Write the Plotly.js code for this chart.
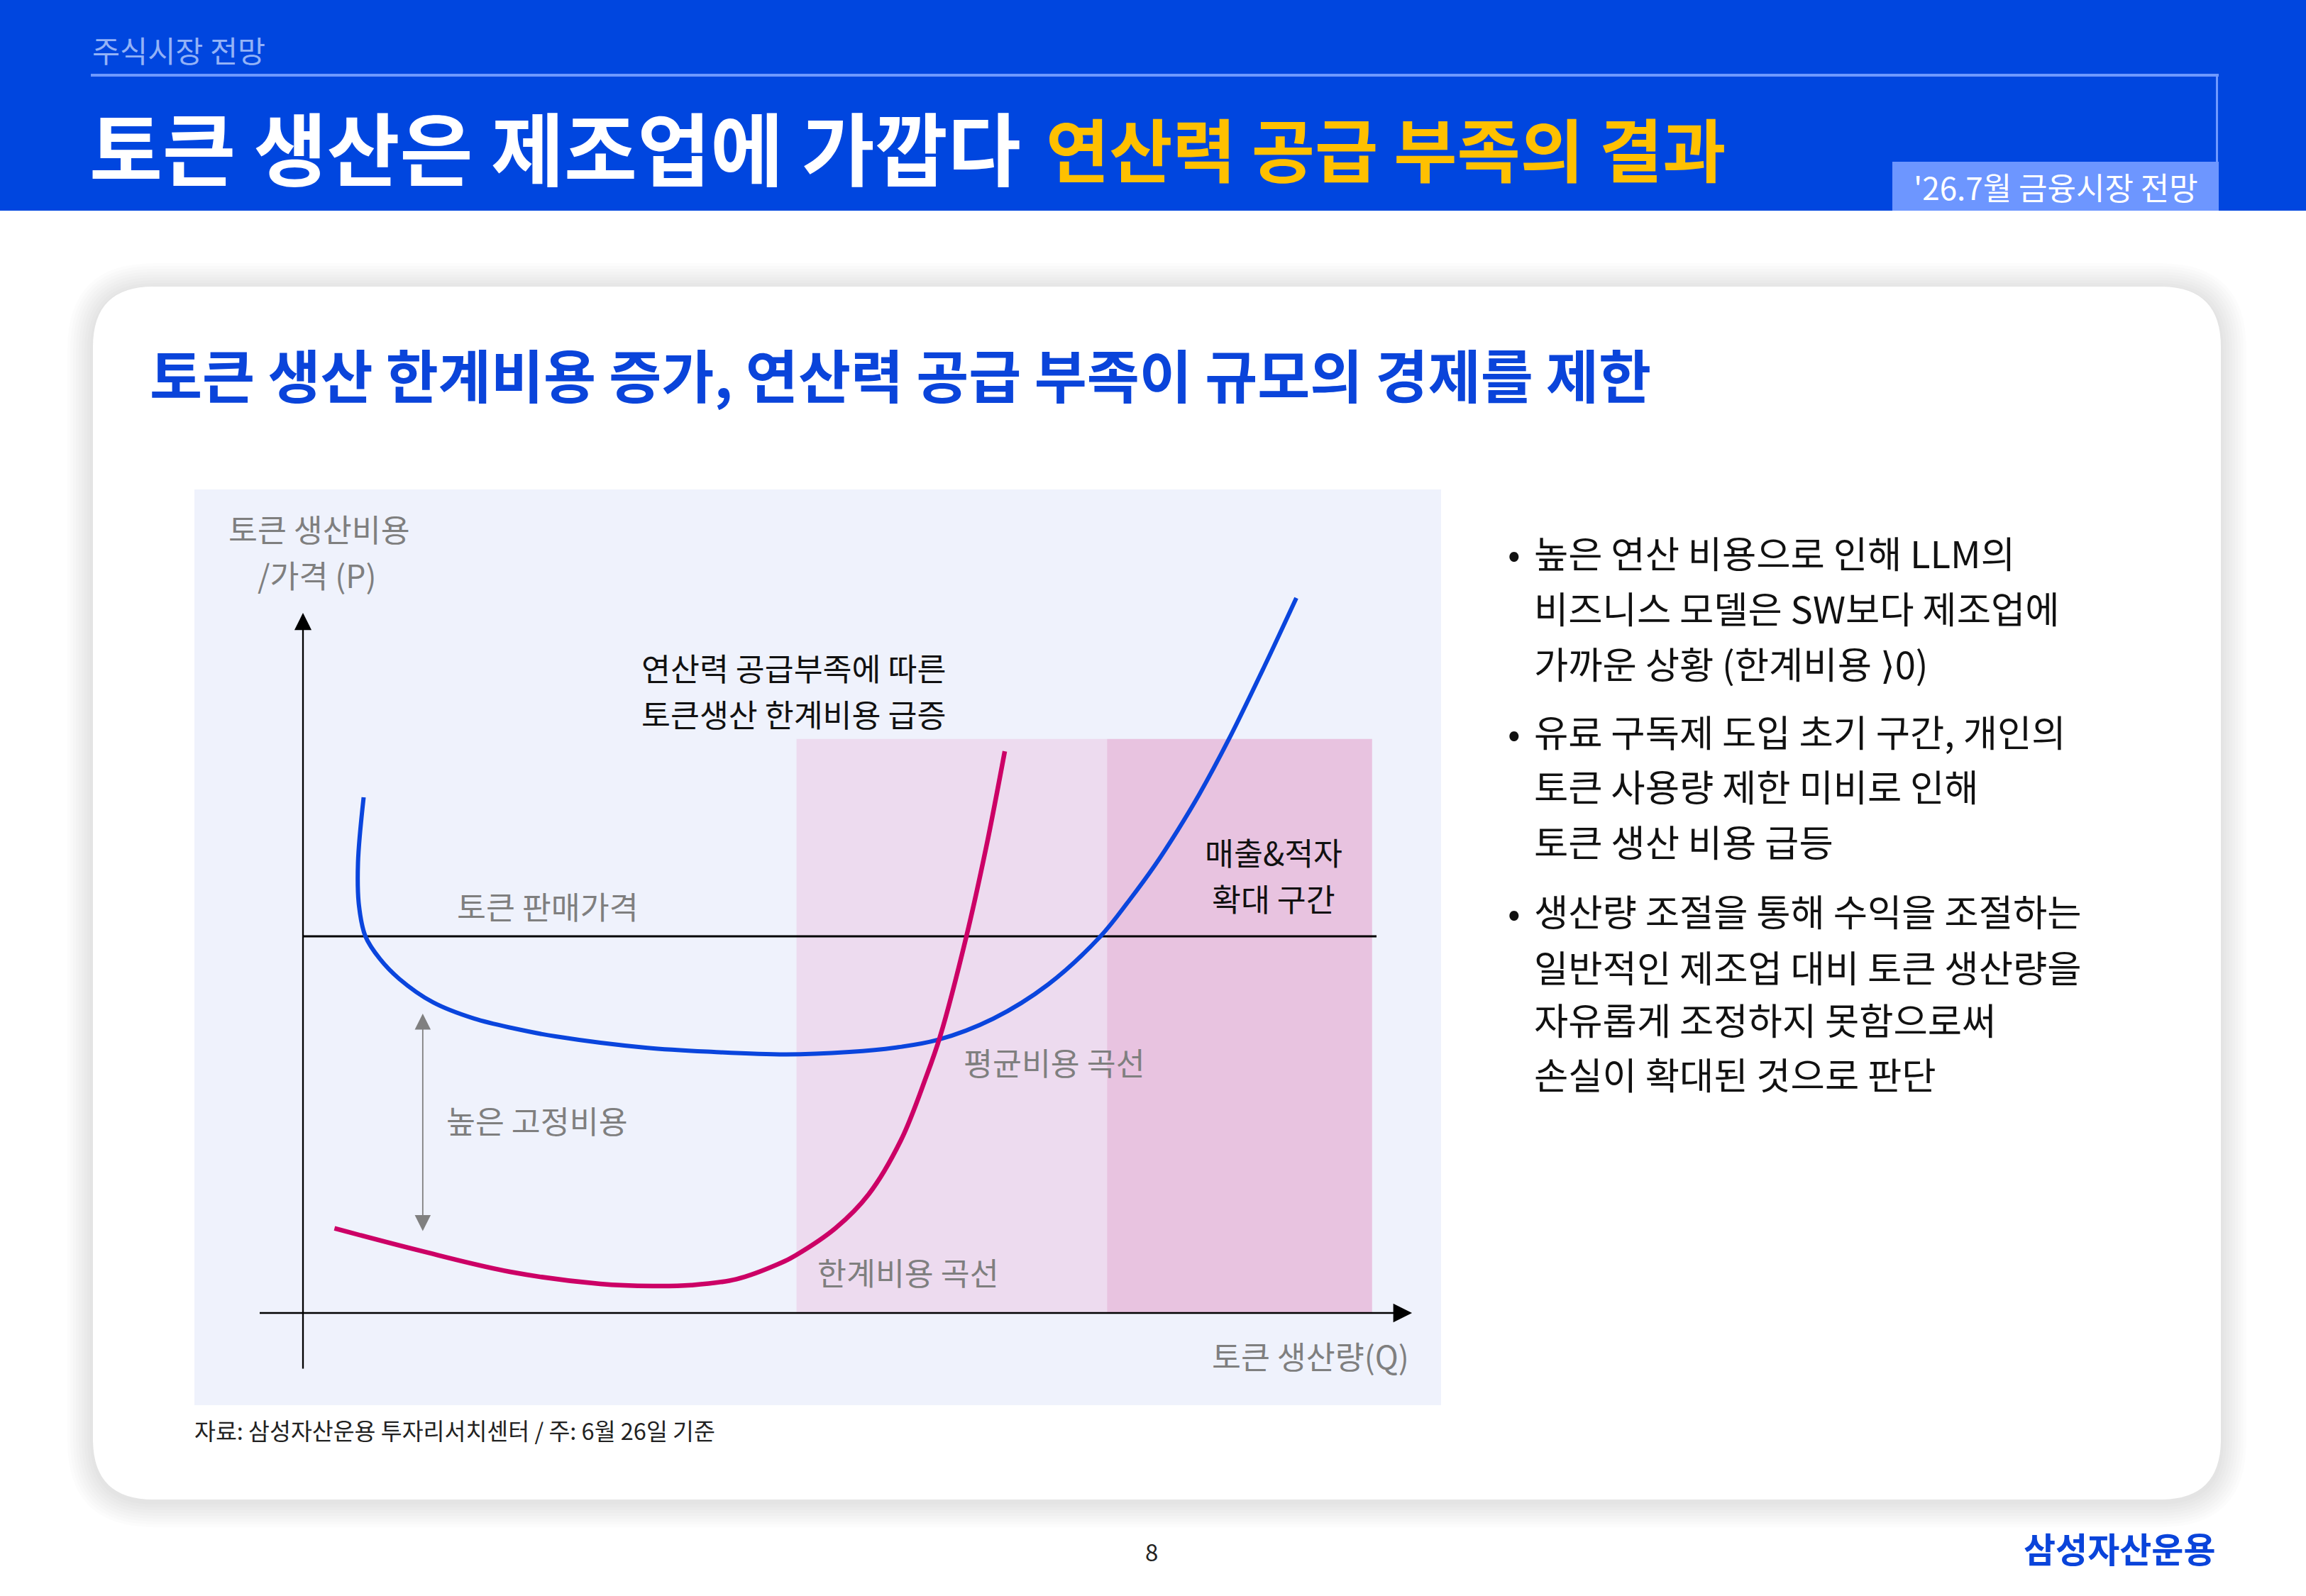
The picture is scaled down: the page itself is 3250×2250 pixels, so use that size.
<!DOCTYPE html>
<html>
<head>
<meta charset="utf-8">
<script src="https://cdn.plot.ly/plotly-3.0.1.min.js"></script>
<style>
  html, body { margin: 0; padding: 0; background: #ffffff; }
  #slide { width: 3250px; height: 2250px; }
</style>
</head>
<body>
<div id="slide"></div>
<script>
// ---- Cost curves (Q = token output, P = cost / price) ----
const avgCostQ = [5.47, 4.96, 5.05, 5.63, 6.94, 8.68, 11.71, 15.42, 19.08, 22.76, 30.90, 37.04, 43.57,
                  49.26, 53.36, 57.24, 62.25, 67.18, 71.91, 74.47, 76.81, 78.89, 80.81, 83.49, 86.67, 89.57];
const avgCostP = [73.66, 64.34, 58.16, 53.80, 50.56, 47.72, 44.38, 42.05, 40.63, 39.51, 37.89, 37.28, 36.93,
                  37.28, 37.89, 39.01, 42.05, 46.91, 53.80, 58.87, 63.93, 68.99, 74.06, 81.97, 92.30, 102.13];

const marginalCostQ = [2.84, 10.49, 18.68, 26.81, 31.54, 35.00, 39.08, 43.15, 44.40, 48.05,
                       50.99, 53.93, 56.17, 57.45, 59.82, 61.61, 63.28];
const marginalCostP = [12.09, 8.92, 5.88, 4.15, 3.85, 3.98, 4.83, 7.19, 8.21, 12.16,
                       16.92, 24.72, 33.64, 39.51, 53.80, 66.57, 80.24];

// selling price of a token and the output span it is drawn over
const salePrice = 53.8;
const salePriceQ = [0, 96.8];

// output zones: compute shortage zone and revenue & loss expansion zone
const shortageZoneQ = [44.5, 72.5];
const lossZoneQ = [72.5, 96.4];
const zoneTopP = 82;

// high fixed cost span
const fixedCostQ = 10.8;
const fixedCostP = [42.9, 11.7];

// axis extents
const qAxisFrom = -4, qAxisTo = 100;
const pAxisFrom = -8.1, pAxisTo = 100;

// ---- Text ----
const sectionLabel = '주식시장 전망';
const headline = '토큰 생산은 제조업에 가깝다';
const headlineAccent = '연산력 공급 부족의 결과';
const issueLabel = "'26.7월 금융시장 전망";
const cardTitle = '토큰 생산 한계비용 증가, 연산력 공급 부족이 규모의 경제를 제한';
const sourceNote = '자료: 삼성자산운용 투자리서치센터 / 주: 6월 26일 기준';
const pageNumber = '8';
const brand = '삼성자산운용';
const yAxisLabel = ['토큰 생산비용', '/가격 (P)'];
const xAxisLabel = '토큰 생산량(Q)';
const shortageNote = ['연산력 공급부족에 따른', '토큰생산 한계비용 급증'];
const lossZoneLabel = ['매출&amp;적자', '확대 구간'];
const priceLabel = '토큰 판매가격';
const avgCostLabel = '평균비용 곡선';
const marginalCostLabel = '한계비용 곡선';
const fixedCostLabel = '높은 고정비용';
const bulletLines = [
  ['높은 연산 비용으로 인해 LLM의', '비즈니스 모델은 SW보다 제조업에', '가까운 상황 (한계비용 ⟩0)'],
  ['유료 구독제 도입 초기 구간, 개인의', '토큰 사용량 제한 미비로 인해', '토큰 생산 비용 급등'],
  ['생산량 조절을 통해 수익을 조절하는', '일반적인 제조업 대비 토큰 생산량을', '자유롭게 조정하지 못함으로써', '손실이 확대된 것으로 판단']
];

// ---- Page geometry helpers (pixels -> paper fractions) ----
const W = 3250, H = 2250;
const PX = x => x / W;
const PY = y => 1 - y / H;
const FONT = '"Noto Sans CJK KR", "Noto Sans", sans-serif';

function roundRectPath(x0, y0, x1, y1, r) {
  const p = (x, y) => PX(x).toFixed(6) + ',' + PY(y).toFixed(6);
  return 'M' + p(x0 + r, y0) + ' L' + p(x1 - r, y0) + ' Q' + p(x1, y0) + ' ' + p(x1, y0 + r) +
         ' L' + p(x1, y1 - r) + ' Q' + p(x1, y1) + ' ' + p(x1 - r, y1) +
         ' L' + p(x0 + r, y1) + ' Q' + p(x0, y1) + ' ' + p(x0, y1 - r) +
         ' L' + p(x0, y0 + r) + ' Q' + p(x0, y0) + ' ' + p(x0 + r, y0) + ' Z';
}
function paperRect(x0, y0, x1, y1, fill) {
  return { type: 'rect', xref: 'paper', yref: 'paper', layer: 'below',
           x0: PX(x0), x1: PX(x1), y0: PY(y1), y1: PY(y0),
           fillcolor: fill, line: { width: 0 } };
}
function pageText(text, x, y, size, color, opts, weight) {
  return Object.assign({
    xref: 'paper', yref: 'paper', x: PX(x), y: PY(y), text: text, showarrow: false,
    xanchor: 'left', yanchor: 'middle',
    font: { family: FONT, size: size, color: color, weight: weight || 400 }
  }, opts || {});
}
function chartText(text, q, p, color, opts) {
  return Object.assign({
    xref: 'x', yref: 'y', x: q, y: p, text: text, showarrow: false,
    xanchor: 'center', yanchor: 'middle', align: 'center',
    font: { family: FONT, size: 44.5, color: color }
  }, opts || {});
}

// ---- Shapes: header band, card with soft shadow, chart panel, zones ----
const shapes = [];
shapes.push(paperRect(0, 0, W, 297, '#0046DF'));
shapes.push(paperRect(128, 104, 3127, 108, '#6F99FF'));
shapes.push(paperRect(3123, 106, 3126, 228, '#6F99FF'));
shapes.push(paperRect(2667, 228, 3127, 297, '#6D96FF'));

const card = { x0: 131, y0: 404, x1: 3130, y1: 2114, r: 85 };
for (let i = 9; i >= 1; i--) {
  const g = i * 4;
  shapes.push({ type: 'path', xref: 'paper', yref: 'paper', layer: 'below',
    path: roundRectPath(card.x0 - g, card.y0 - g + 3, card.x1 + g, card.y1 + g + 3, card.r + g),
    fillcolor: 'rgba(0,0,0,0.011)', line: { width: 0 } });
}
shapes.push({ type: 'path', xref: 'paper', yref: 'paper', layer: 'below',
  path: roundRectPath(card.x0, card.y0, card.x1, card.y1, card.r),
  fillcolor: '#FFFFFF', line: { width: 0 } });
shapes.push(paperRect(274, 690, 2031, 1981, '#EFF2FC'));

shapes.push({ type: 'rect', xref: 'x', yref: 'y', layer: 'below',
  x0: shortageZoneQ[0], x1: shortageZoneQ[1], y0: 0, y1: zoneTopP,
  fillcolor: '#EDDBEF', line: { width: 0 } });
shapes.push({ type: 'rect', xref: 'x', yref: 'y', layer: 'below',
  x0: lossZoneQ[0], x1: lossZoneQ[1], y0: 0, y1: zoneTopP,
  fillcolor: '#E8C3E0', line: { width: 0 } });

// ---- Traces ----
const traces = [
  { type: 'scatter', mode: 'lines', x: salePriceQ, y: [salePrice, salePrice],
    line: { color: '#000000', width: 3 }, hoverinfo: 'skip' },
  { type: 'scatter', mode: 'lines', x: avgCostQ, y: avgCostP, name: avgCostLabel,
    line: { color: '#0A45DD', width: 6, shape: 'spline', smoothing: 1 }, hoverinfo: 'skip' },
  { type: 'scatter', mode: 'lines', x: marginalCostQ, y: marginalCostP, name: marginalCostLabel,
    line: { color: '#CC0066', width: 6.5, shape: 'spline', smoothing: 1 }, hoverinfo: 'skip' }
];

// ---- Annotations ----
const annotations = [];

// axes with arrow heads
annotations.push({ xref: 'x', yref: 'y', axref: 'x', ayref: 'y',
  x: 0, y: pAxisTo, ax: 0, ay: pAxisFrom, text: '', showarrow: true,
  arrowhead: 2, arrowsize: 2.1, arrowwidth: 2.3, arrowcolor: '#000000', standoff: 0 });
annotations.push({ xref: 'x', yref: 'y', axref: 'x', ayref: 'y',
  x: qAxisTo, y: 0, ax: qAxisFrom, ay: 0, text: '', showarrow: true,
  arrowhead: 2, arrowsize: 2.3, arrowwidth: 2.3, arrowcolor: '#000000', standoff: 0 });

// fixed-cost double arrow
annotations.push({ xref: 'x', yref: 'y', axref: 'x', ayref: 'y',
  x: fixedCostQ, y: fixedCostP[1], ax: fixedCostQ, ay: fixedCostP[0], text: '', showarrow: true,
  arrowside: 'end+start', arrowhead: 2, startarrowhead: 2,
  arrowsize: 2.5, startarrowsize: 2.5, arrowwidth: 1.8, arrowcolor: '#808080',
  standoff: 0, startstandoff: 0 });

// chart labels
annotations.push(chartText(yAxisLabel[0], 1.5, 112.1, '#7F7F7F'));
annotations.push(chartText(yAxisLabel[1], 1.3, 105.5, '#7F7F7F'));
annotations.push(chartText(shortageNote[0], 30.4, 92.3, '#111111', { xanchor: 'left' }));
annotations.push(chartText(shortageNote[1], 30.4, 85.7, '#111111', { xanchor: 'left' }));
annotations.push(chartText(priceLabel, 22.1, 58.2, '#7F7F7F'));
annotations.push(chartText(lossZoneLabel[0], 87.5, 65.9, '#111111'));
annotations.push(chartText(lossZoneLabel[1], 87.5, 59.3, '#111111'));
annotations.push(chartText(avgCostLabel, 67.75, 35.9, '#7F7F7F'));
annotations.push(chartText(fixedCostLabel, 21.1, 27.6, '#7F7F7F'));
annotations.push(chartText(marginalCostLabel, 54.6, 5.9, '#7F7F7F'));
annotations.push(chartText(xAxisLabel, 99.9, -6.0, '#7F7F7F', { xanchor: 'right' }));

// header
annotations.push(pageText(sectionLabel, 128, 70, 42.5, '#93B2F7'));
annotations.push(pageText(headline, 124, 205, 112, '#FFFFFF', null, 700));
annotations.push(pageText(headlineAccent, 1472, 207, 97, '#FFC000', null, 700));
annotations.push(pageText(issueLabel, 2897, 263, 44, '#FFFFFF', { xanchor: 'center' }));

// card title and source
annotations.push(pageText(cardTitle, 209, 526, 80.5, '#0A44DA', null, 700));
annotations.push(pageText(sourceNote, 272, 2015, 32.5, '#222222'));

// bullet commentary
const lineYs = [[778, 856, 934], [1030, 1107, 1185], [1283, 1362, 1436, 1513]];
bulletLines.forEach((para, i) => {
  annotations.push(pageText('•', 2134, lineYs[i][0], 52, '#111111', { xanchor: 'center' }));
  para.forEach((line, j) => {
    annotations.push(pageText(line, 2160, lineYs[i][j], 52.5, '#111111'));
  });
});

// footer
annotations.push(pageText(pageNumber, 1623, 2187, 33, '#222222', { xanchor: 'center' }));
annotations.push(pageText(brand, 3124, 2181, 49, '#0A44DA', { xanchor: 'right' }, 700));

const layout = {
  width: W, height: H, autosize: false,
  margin: { l: 0, r: 0, t: 0, b: 0, pad: 0 },
  paper_bgcolor: '#FFFFFF', plot_bgcolor: 'rgba(0,0,0,0)',
  showlegend: false,
  xaxis: { domain: [PX(274), PX(2031)], range: [-9.79, 102.62], visible: false, fixedrange: true },
  yaxis: { domain: [PY(1981), PY(690)], range: [-13.17, 117.63], visible: false, fixedrange: true },
  shapes: shapes,
  annotations: annotations,
  font: { family: FONT }
};

Plotly.newPlot('slide', traces, layout, { staticPlot: true, displayModeBar: false });
</script>
</body>
</html>
